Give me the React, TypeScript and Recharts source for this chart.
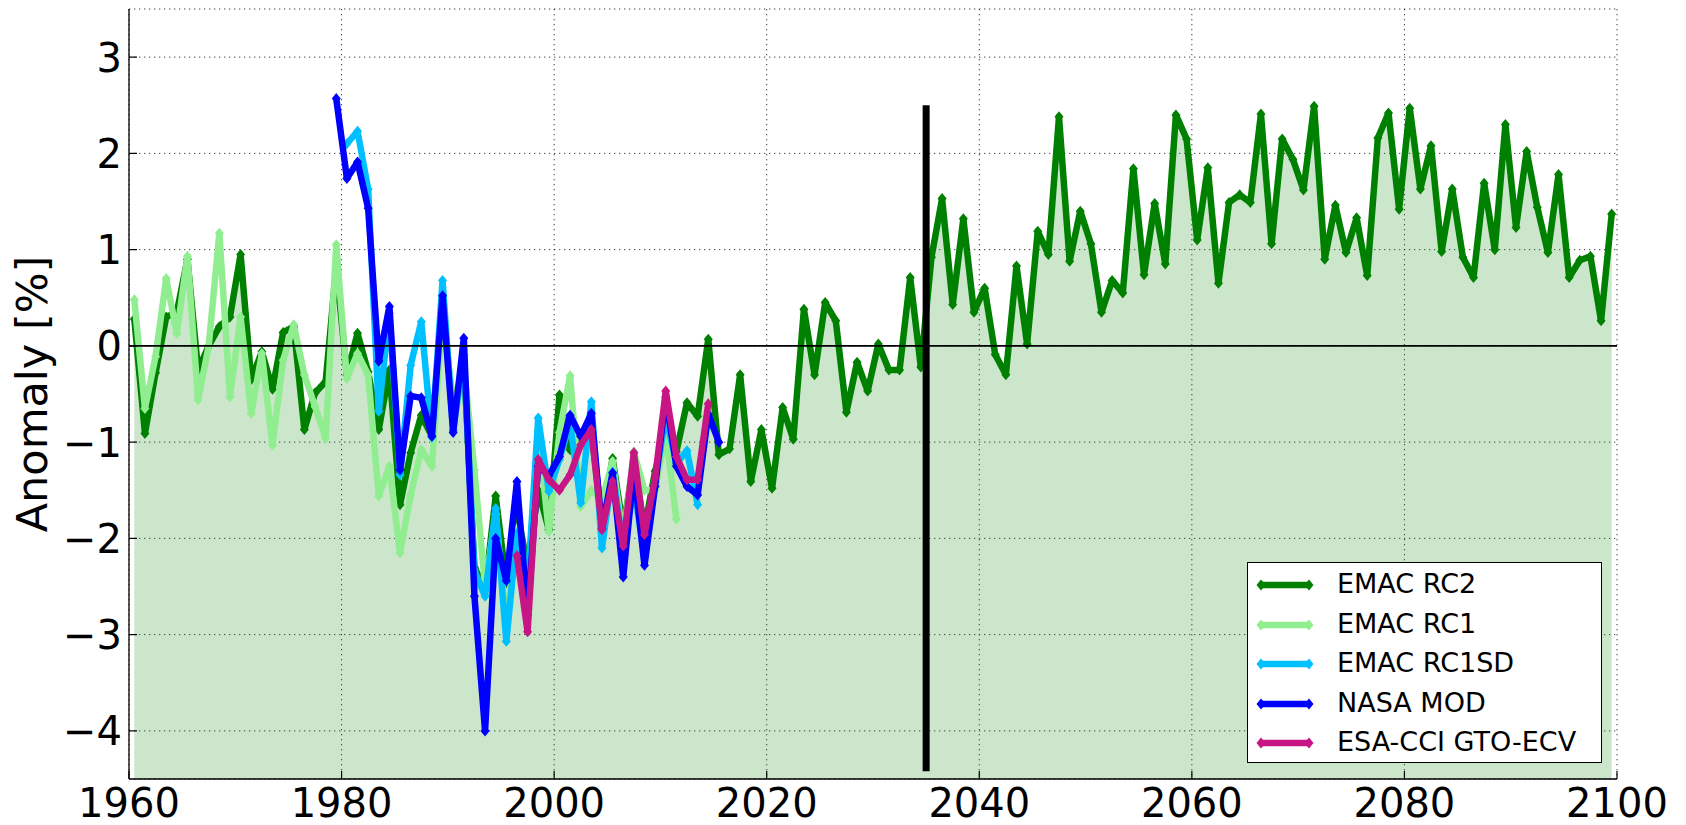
import React from 'react';
import {
  ComposedChart, Line, Area, XAxis, YAxis, CartesianGrid, ReferenceLine, Legend, Label,
} from 'recharts';

// annual anomalies [%], plotted at mid-year
const RC2_START = 1960;
const rc2 = [
  0.28, -0.91, -0.28, 0.3, 0.35, 0.9, -0.25, 0.0, 0.2, 0.3,
  0.95, -0.35, -0.06, -0.45, 0.14, 0.2, -0.87, -0.49, -0.37, 0.82,
  -0.3, 0.13, -0.27, -0.87, -0.25, -1.65, -1.11, -0.72, -0.94, 0.45,
  -0.73, -0.15, -2.3, -2.53, -1.56, -2.46, -1.7, -2.3, -1.5, -1.91,
  -0.51, -1.08, -1.0, -0.9, -1.8, -1.17, -1.9, -1.2, -1.9, -1.3,
  -0.9, -1.1, -0.59, -0.73, 0.07, -1.13, -1.07, -0.3, -1.41, -0.87,
  -1.48, -0.64, -0.97, 0.38, -0.3, 0.45, 0.26, -0.69, -0.17, -0.47,
  0.02, -0.25, -0.25, 0.71, -0.22, 0.92, 1.53, 0.43, 1.32, 0.35,
  0.6, -0.09, -0.3, 0.83, 0.02, 1.19, 0.95, 2.38, 0.88, 1.4,
  1.06, 0.35, 0.68, 0.55, 1.84, 0.74, 1.48, 0.85, 2.4, 2.15,
  1.1, 1.85, 0.65, 1.49, 1.57, 1.49, 2.41, 1.06, 2.15, 1.94,
  1.62, 2.49, 0.9, 1.46, 0.97, 1.33, 0.73, 2.16, 2.42, 1.42,
  2.47, 1.63, 2.08, 0.98, 1.63, 0.92, 0.71, 1.69, 1.0, 2.3,
  1.23, 2.02, 1.44, 0.97, 1.78, 0.71, 0.89, 0.93, 0.26, 1.37,
];

const RC1_START = 1960;
const rc1 = [
  0.48, -0.65, -0.11, 0.7, 0.13, 0.93, -0.56, 0.0, 1.17, -0.53,
  0.3, -0.7, -0.08, -1.03, -0.15, 0.22, -0.3, -0.63, -0.96, 1.05,
  -0.34, -0.08, -0.3, -1.56, -1.25, -2.15, -1.55, -1.08, -1.25, 0.35,
  -0.6, -0.2, -1.29, -2.5, -1.75, -2.9, -1.9, -2.6, -0.9, -1.93,
  -0.9, -0.31, -1.67, -1.5, -1.6, -1.2, -2.0, -1.1, -1.5, -1.5,
  -0.9, -1.8,
];

const RC1SD_START = 1980;
const rc1sd = [
  2.1, 2.23, 1.63, -0.68, 0.34, -1.34, -0.2, 0.25, -0.95, 0.68,
  -0.88, -0.1, -2.34, -2.6, -1.69, -3.07, -1.95, -2.5, -0.75, -1.51,
  -1.18, -0.8, -1.63, -0.58, -2.1, -1.31, -2.08, -1.46, -2.19, -1.41,
  -0.73, -1.22, -1.09, -1.65,
];

const NASA_START = 1979;
const nasa = [
  2.57, 1.74, 1.91, 1.43, -0.16, 0.41, -1.29, -0.52, -0.54, -0.94,
  0.52, -0.9, 0.08, -2.6, -4.0, -2.0, -2.44, -1.41, -2.8, -1.25,
  -1.35, -1.15, -0.72, -0.94, -0.7, -1.9, -1.32, -2.4, -1.29, -2.28,
  -1.46, -0.53, -1.25, -1.46, -1.55, -0.71, -1.0,
];

const ESA_START = 1996;
const esa = [
  -2.18, -2.97, -1.18, -1.39, -1.5, -1.34, -1.03, -0.87, -1.91, -1.41,
  -2.08, -1.11, -1.96, -1.37, -0.47, -1.15, -1.39, -1.39, -0.6,
];

const xTicks = [1960, 1980, 2000, 2020, 2040, 2060, 2080, 2100];
const yTicks = [-4, -3, -2, -1, 0, 1, 2, 3];
const SPLIT_YEAR = 2035;

const series = [
  { key: 'rc2', name: 'EMAC RC2', color: '#008000' },
  { key: 'rc1', name: 'EMAC RC1', color: '#90ee90' },
  { key: 'rc1sd', name: 'EMAC RC1SD', color: '#00bfff' },
  { key: 'nasa', name: 'NASA MOD', color: '#0000ff' },
  { key: 'esa', name: 'ESA-CCI GTO-ECV', color: '#c71585' },
];

const sources: Record<string, [number, number[]]> = {
  rc2: [RC2_START, rc2],
  rc1: [RC1_START, rc1],
  rc1sd: [RC1SD_START, rc1sd],
  nasa: [NASA_START, nasa],
  esa: [ESA_START, esa],
};

const data = rc2.map((_, i) => {
  const year = RC2_START + i;
  const row: Record<string, number | undefined> = { x: year + 0.5 };
  Object.keys(sources).forEach(k => {
    const [start, vals] = sources[k];
    const j = year - start;
    row[k] = j >= 0 && j < vals.length ? vals[j] : undefined;
  });
  return row;
});

// plot box in page pixels
const W = 1686;
const H = 825;
const LEFT = 129;
const TOP = 9;
const RIGHT = 1617;
const BOTTOM = 779;
const FONT = '"DejaVu Sans", sans-serif';
const TICK = 8;
const LINE_W = 6.5;

const fmt = (v: number) => (v < 0 ? '\u2212' + Math.abs(v) : String(v));

const diamond = (cx: number, cy: number) =>
  `${cx},${cy - 5.5} ${cx + 4.5},${cy} ${cx},${cy + 5.5} ${cx - 4.5},${cy}`;

const LeftTick = (props: any) => {
  const { y, payload } = props;
  return (
    <g>
      <text x={LEFT - 7} y={y} dy={14.5} textAnchor="end" fontSize={40} fontFamily={FONT} fill="#000">
        {fmt(payload.value)}
      </text>
      <line x1={LEFT} x2={LEFT + TICK} y1={y} y2={y} stroke="#000" strokeWidth={1.2} />
    </g>
  );
};

const BottomTick = (props: any) => {
  const { x, payload } = props;
  return (
    <g>
      <text x={x} y={BOTTOM + 38} textAnchor="middle" fontSize={40} fontFamily={FONT} fill="#000">
        {payload.value}
      </text>
      <line x1={x} x2={x} y1={BOTTOM} y2={BOTTOM - TICK} stroke="#000" strokeWidth={1.2} />
    </g>
  );
};

const TopTick = (props: any) => (
  <line x1={props.x} x2={props.x} y1={TOP} y2={TOP + TICK} stroke="#000" strokeWidth={1.2} />
);

const RightTick = (props: any) => (
  <line x1={RIGHT} x2={RIGHT - TICK} y1={props.y} y2={props.y} stroke="#000" strokeWidth={1.2} />
);

const renderLegend = () => (
  <div
    style={{
      width: 355, height: 201, boxSizing: 'border-box', border: '1.3px solid #000',
      background: '#fff', position: 'relative', fontFamily: FONT,
    }}
  >
    {series.map((s, i) => (
      <div key={s.key} style={{ position: 'absolute', left: 0, top: 22 + i * 39.5 - 20, height: 40, width: 355 }}>
        <svg width={70} height={40} style={{ position: 'absolute', left: 6, top: 0 }}>
          <line x1={7} x2={55} y1={20} y2={20} stroke={s.color} strokeWidth={LINE_W} />
          <polygon points={diamond(7, 20)} fill={s.color} />
          <polygon points={diamond(55, 20)} fill={s.color} />
        </svg>
        <span style={{ position: 'absolute', left: 89, top: 3, fontSize: 27, lineHeight: '32px', color: '#000', whiteSpace: 'nowrap' }}>
          {s.name}
        </span>
      </div>
    ))}
  </div>
);

const YLabel = () => {
  const cy = (TOP + BOTTOM) / 2;
  return (
    <text x={32} y={cy} transform={`rotate(-90 32 ${cy})`} textAnchor="middle" dominantBaseline="central"
      fontSize={43} fontFamily={FONT} fill="#000">
      Anomaly [%]
    </text>
  );
};

// diamond markers drawn on every vertex of each line path
const MarkerDefs = () => (
  <svg width={0} height={0} style={{ position: 'absolute' }}>
    <defs>
      {series.map(s => (
        <marker
          key={s.key} id={`mk-${s.key}`} viewBox="-6 -7 12 14" markerWidth={12} markerHeight={14}
          markerUnits="userSpaceOnUse" refX={0} refY={0} orient="0"
        >
          <polygon points={diamond(0, 0)} fill={s.color} />
        </marker>
      ))}
    </defs>
  </svg>
);

const App: React.FC = () => {
  return (
    <div style={{ position: 'absolute', left: 0, top: 0, width: W, height: H, background: '#fff' }}>
      <MarkerDefs />
      <ComposedChart
        width={W}
        height={H}
        data={data}
        margin={{ top: TOP, right: W - RIGHT, bottom: 0, left: 0 }}
      >
        <CartesianGrid stroke="#000" strokeOpacity={0.75} strokeDasharray="1.3 3.7" strokeWidth={1} />
        <XAxis
          dataKey="x" type="number" domain={[1960, 2100]} ticks={xTicks} allowDataOverflow
          height={H - BOTTOM} tickSize={0} tick={<BottomTick />} interval={0}
          axisLine={{ stroke: '#000', strokeWidth: 1.3 }} tickLine={false}
        />
        <XAxis
          xAxisId="top" orientation="top" dataKey="x" type="number" domain={[1960, 2100]} ticks={xTicks}
          height={0} tickSize={0} tick={<TopTick />} interval={0}
          axisLine={{ stroke: '#000', strokeWidth: 1.3 }} tickLine={false}
        />
        <YAxis
          type="number" domain={[-4.5, 3.5]} ticks={yTicks} allowDataOverflow width={LEFT}
          tickSize={0} tick={<LeftTick />} interval={0}
          axisLine={{ stroke: '#000', strokeWidth: 1.3 }} tickLine={false}
        >
          <Label content={<YLabel />} />
        </YAxis>
        <YAxis
          yAxisId="right" orientation="right" type="number" domain={[-4.5, 3.5]} ticks={yTicks} width={0}
          tickSize={0} tick={<RightTick />} interval={0}
          axisLine={{ stroke: '#000', strokeWidth: 1.3 }} tickLine={false}
        />
        <Area
          dataKey="rc2" type="linear" stroke="none" fill="#008000" fillOpacity={0.2}
          baseValue={-4.5} isAnimationActive={false} legendType="none"
        />
        {series.map(s => (
          <Line
            key={s.key}
            dataKey={s.key}
            name={s.name}
            type="linear"
            stroke={s.color}
            strokeWidth={LINE_W}
            strokeLinejoin="round"
            markerStart={`url(#mk-${s.key})`}
            markerMid={`url(#mk-${s.key})`}
            markerEnd={`url(#mk-${s.key})`}
            dot={false}
            activeDot={false}
            isAnimationActive={false}
          />
        ))}
        <ReferenceLine y={0} stroke="#000" strokeWidth={1.6} />
        <ReferenceLine
          segment={[{ x: SPLIT_YEAR, y: 2.5 }, { x: SPLIT_YEAR, y: -4.42 }]}
          stroke="#000" strokeWidth={7}
        />
        <Legend
          layout="vertical" align="center" verticalAlign="middle" content={renderLegend}
          wrapperStyle={{ left: 1247, top: 562, width: 355, height: 201 }}
        />
      </ComposedChart>
    </div>
  );
};

export default App;
